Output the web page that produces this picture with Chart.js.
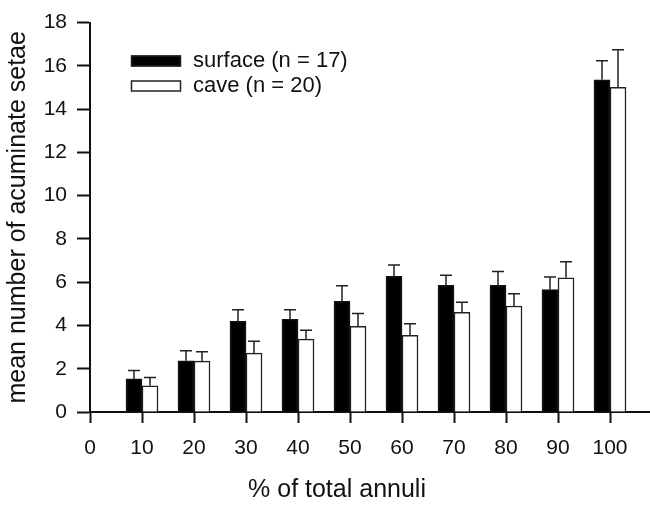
<!DOCTYPE html>
<html lang="en">
<head>
  <meta charset="UTF-8">
  <title>Acuminate setae by annuli</title>
  <script src="https://cdn.jsdelivr.net/npm/chart.js"></script>
  <style>
    html, body { margin: 0; padding: 0; background: #fff; }
    #wrap { width: 650px; height: 505px; }
  </style>
</head>
<body>
  <div id="wrap"><canvas id="chart" width="650" height="505"></canvas></div>

  <script>
    // data
    const annuli = [10, 20, 30, 40, 50, 60, 70, 80, 90, 100];
    const surfaceMean = [1.53, 2.37, 4.19, 4.28, 5.11, 6.27, 5.86, 5.86, 5.66, 15.36];
    const surfaceErr  = [0.39, 0.46, 0.54, 0.45, 0.73, 0.52, 0.46, 0.63, 0.58, 0.88];
    const caveMean    = [1.21, 2.35, 2.72, 3.37, 3.96, 3.54, 4.61, 4.90, 6.20, 15.01];
    const caveErr     = [0.39, 0.43, 0.55, 0.41, 0.59, 0.54, 0.46, 0.57, 0.75, 1.74];
    const xTicks = [0, 10, 20, 30, 40, 50, 60, 70, 80, 90, 100];

    const FONT = '"Liberation Sans", Arial, sans-serif';
    const INK = '#111';

    // upper whiskers with caps, placed through the chart scales
    const errorBars = {
      id: 'errorBars',
      afterDatasetsDraw(chart) {
        const ctx = chart.ctx;
        const yScale = chart.scales.y;
        ctx.save();
        ctx.strokeStyle = '#222';
        ctx.lineWidth = 1.5;
        chart.data.datasets.forEach((ds, di) => {
          const meta = chart.getDatasetMeta(di);
          meta.data.forEach((bar, i) => {
            const top = yScale.getPixelForValue(ds.data[i].y + ds.err[i]);
            const half = 6;
            ctx.beginPath();
            ctx.moveTo(bar.x, bar.y);
            ctx.lineTo(bar.x, top);
            ctx.moveTo(bar.x - half, top);
            ctx.lineTo(bar.x + half, top);
            ctx.stroke();
          });
        });
        ctx.restore();
      }
    };

    // legend in the upper-left of the plot, plus the two axis titles
    const decorations = {
      id: 'decorations',
      afterDraw(chart) {
        const ctx = chart.ctx;
        ctx.save();
        ctx.font = '22px ' + FONT;
        ctx.fillStyle = INK;
        ctx.textBaseline = 'middle';
        const rows = [61, 86];
        chart.data.datasets.forEach((ds, i) => {
          const y = rows[i];
          ctx.fillStyle = ds.backgroundColor;
          ctx.fillRect(131, y - 5.5, 50, 11);
          ctx.strokeStyle = '#222';
          ctx.lineWidth = 1.5;
          ctx.strokeRect(131.5, y - 5, 49, 10);
          ctx.fillStyle = INK;
          ctx.textAlign = 'left';
          ctx.fillText(ds.label, 193, y);
        });

        ctx.font = '25px ' + FONT;
        ctx.textAlign = 'center';
        ctx.fillText('% of total annuli', 337, 490);

        const a = chart.chartArea;
        ctx.translate(18, (a.top + a.bottom) / 2);
        ctx.rotate(-Math.PI / 2);
        ctx.fillText('mean number of acuminate setae', 0, 0);
        ctx.restore();
      }
    };

    new Chart(document.getElementById('chart'), {
      type: 'bar',
      data: {
        datasets: [
          {
            label: 'surface (n = 17)',
            data: annuli.map((x, i) => ({ x, y: surfaceMean[i] })),
            err: surfaceErr,
            backgroundColor: '#000',
            borderColor: '#111',
            borderWidth: 1.5
          },
          {
            label: 'cave (n = 20)',
            data: annuli.map((x, i) => ({ x, y: caveMean[i] })),
            err: caveErr,
            backgroundColor: '#fff',
            borderColor: '#222',
            borderWidth: 1.5
          }
        ]
      },
      options: {
        responsive: false,
        animation: false,
        barThickness: 16,
        layout: { padding: { top: 15, right: 1, left: 0, bottom: 0 } },
        plugins: {
          legend: { display: false },
          tooltip: { enabled: false }
        },
        scales: {
          x: {
            type: 'linear',
            offset: false,
            min: 0,
            max: 107.5,
            afterBuildTicks(scale) {
              scale.ticks = xTicks.map(v => ({ value: v }));
            },
            afterFit(scale) { scale.height = 93; },
            grid: {
              offset: false,
              drawOnChartArea: false,
              drawTicks: true,
              tickLength: 11,
              tickWidth: 2,
              tickColor: INK
            },
            border: { display: true, color: INK, width: 2 },
            ticks: {
              color: INK,
              padding: 13,
              maxRotation: 0,
              autoSkip: false,
              font: { family: FONT, size: 21 }
            }
          },
          y: {
            min: 0,
            max: 18,
            afterFit(scale) { scale.width = 90; },
            grid: {
              drawOnChartArea: false,
              drawTicks: true,
              tickLength: 13,
              tickWidth: 2,
              tickColor: INK
            },
            border: { display: true, color: INK, width: 2 },
            ticks: {
              stepSize: 2,
              color: INK,
              padding: 10,
              font: { family: FONT, size: 21 }
            }
          }
        }
      },
      plugins: [errorBars, decorations]
    });
  </script>
</body>
</html>
